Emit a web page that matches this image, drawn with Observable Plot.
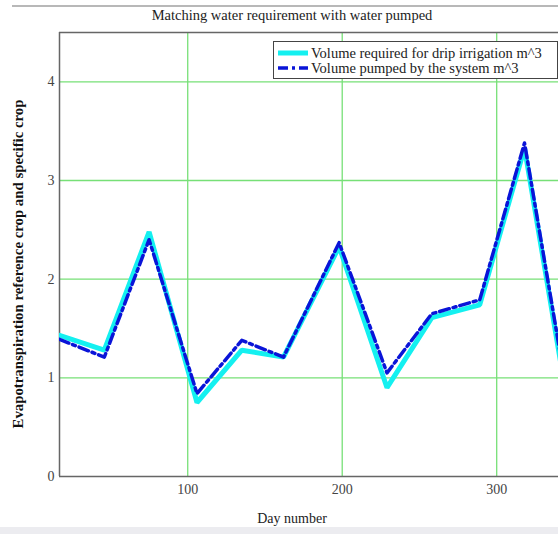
<!DOCTYPE html>
<html>
<head>
<meta charset="utf-8">
<script src="https://cdn.jsdelivr.net/npm/d3@7"></script>
<script src="https://cdn.jsdelivr.net/npm/@observablehq/plot@0.6"></script>
<style>
  html, body { margin: 0; padding: 0; background: #fff; }
  #wrap { position: relative; width: 558px; height: 534px; overflow: hidden; font-family: "Liberation Serif", "DejaVu Serif", serif; }
  #topline { position: absolute; left: 12px; top: 5px; width: 546px; height: 2px; background: #b8b8b8; }
  #bottomband { position: absolute; left: 0; top: 527px; width: 558px; height: 7px; background: #ececf0; }
  #title { position: absolute; left: 0; width: 584px; top: 7px; text-align: center; font-size: 14.5px; color: #222; }
  #ylabel { position: absolute; left: 18px; top: 264px; transform: translate(-50%, -50%) rotate(-90deg); white-space: nowrap; font-size: 14.8px; font-weight: bold; color: #111; }
  #legend { position: absolute; left: 273px; top: 41px; width: 283px; height: 36px; border: 1px solid #444; background: #fff; font-size: 14.5px; color: #222; }
  .row { position: absolute; left: 2px; height: 16px; line-height: 16px; white-space: nowrap; }
  .row svg { position: absolute; left: 0; top: 0; }
  .row span { position: absolute; left: 35px; top: 0; }
  #chart { position: absolute; left: 0; top: 0; }
</style>
</head>
<body>
<div id="wrap">
  <div id="topline"></div>
  <div id="chart"></div>
  <div id="title"></div>
  <div id="ylabel"></div>
  <div id="legend"></div>
  <div id="bottomband"></div>
</div>
<script>
const days = [17, 46, 75, 106, 135, 162, 198, 229, 258, 289, 318, 349];
const required = [1.43, 1.28, 2.48, 0.75, 1.28, 1.21, 2.33, 0.90, 1.61, 1.74, 3.33, 0.45];
const pumped   = [1.39, 1.21, 2.40, 0.84, 1.38, 1.21, 2.37, 1.05, 1.65, 1.79, 3.38, 0.52];
const xTicks = [100, 200, 300];
const yTicks = [0, 1, 2, 3, 4];
const seriesNames = ["Volume required for drip irrigation m^3", "Volume pumped by the system m^3"];
const titleText = "Matching water requirement with water pumped";
const xLabel = "Day number";
const yLabel = "Evapotranspiration reference crop and specific crop";

document.getElementById("title").textContent = titleText;
document.getElementById("ylabel").textContent = yLabel;

const reqData = days.map((d, i) => ({day: d, value: required[i]}));
const pumpData = days.map((d, i) => ({day: d, value: pumped[i]}));

const cyan = "#14f0f0";
const blue = "#0a14d8";
const grid = "#77e077";

const chart = Plot.plot({
  width: 558,
  height: 534,
  marginLeft: 59,
  marginTop: 32,
  marginBottom: 58,
  marginRight: 0,
  style: {fontFamily: "'Liberation Serif', 'DejaVu Serif', serif", background: "transparent"},
  x: {domain: [17, 340]},
  y: {domain: [0, 4.5]},
  marks: [
    Plot.gridX(xTicks, {stroke: grid, strokeOpacity: 1, strokeWidth: 1.3}),
    Plot.gridY(yTicks.filter(t => t > 0), {stroke: grid, strokeOpacity: 1, strokeWidth: 1.3}),
    Plot.axisX(xTicks, {tickSize: 0, tickPadding: 8, fontSize: 14, fill: "#444", label: null, tickFormat: d => String(d)}),
    Plot.axisY(yTicks, {tickSize: 0, tickPadding: 5, fontSize: 14, fill: "#444", label: null, tickFormat: d => String(d)}),
    Plot.ruleY([0], {stroke: "#666", strokeWidth: 1.5}),
    Plot.ruleY([4.5], {stroke: "#666", strokeWidth: 1.5}),
    Plot.ruleX([17], {stroke: "#666", strokeWidth: 1.5}),
    Plot.line(reqData, {x: "day", y: "value", stroke: cyan, strokeWidth: 5, strokeLinejoin: "miter", clip: true}),
    Plot.line(pumpData, {x: "day", y: "value", stroke: blue, strokeWidth: 3.5, strokeDasharray: "10,4,3,4", strokeLinejoin: "round", clip: true}),
    Plot.text([xLabel], {frameAnchor: "bottom", dy: 46, dx: -17, fontSize: 14, fill: "#222"})
  ]
});
document.getElementById("chart").appendChild(chart);

const legend = document.getElementById("legend");
const styles = [
  `<line x1="2" y1="8" x2="32" y2="8" stroke="${cyan}" stroke-width="5"/>`,
  `<line x1="2" y1="8" x2="32" y2="8" stroke="${blue}" stroke-width="3.5" stroke-dasharray="10,4,3,4"/>`
];
seriesNames.forEach((name, i) => {
  const row = document.createElement("div");
  row.className = "row";
  row.style.top = (3 + i * 15) + "px";
  row.innerHTML = `<svg width="34" height="16">${styles[i]}</svg><span>${name}</span>`;
  legend.appendChild(row);
});
</script>
</body>
</html>
